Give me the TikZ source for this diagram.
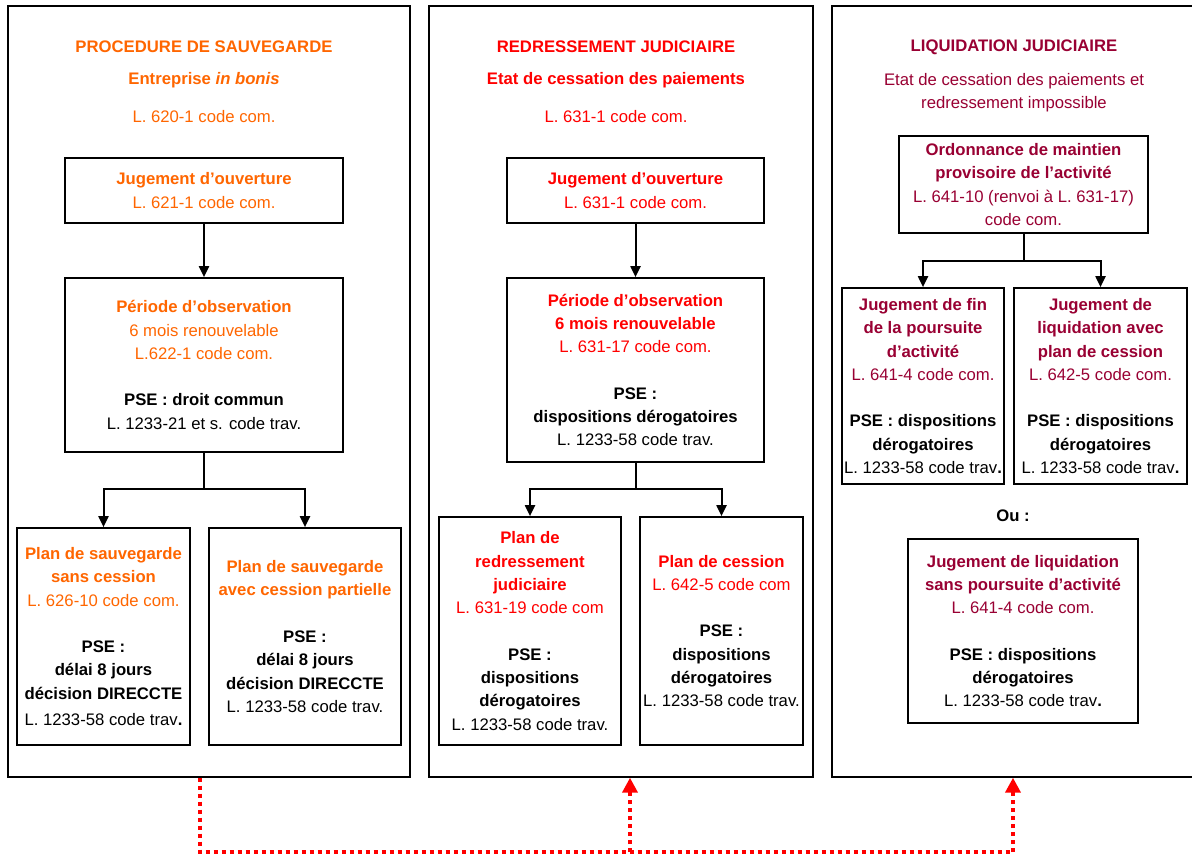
\documentclass[tikz,border=0pt]{standalone}
\usepackage{fontspec}
\setmainfont{Liberation Sans}
\usetikzlibrary{arrows.meta}
\definecolor{orng}{RGB}{255,102,0}
\definecolor{rd}{RGB}{255,0,0}
\definecolor{burg}{RGB}{153,0,51}
\newcommand\fsz{\fontsize{16.7}{23.3}\selectfont}
\newcommand\OB[1]{\textcolor{orng}{\bfseries #1}}
\newcommand\ON[1]{\textcolor{orng}{#1}}
\newcommand\RB[1]{\textcolor{rd}{\bfseries #1}}
\newcommand\RN[1]{\textcolor{rd}{#1}}
\newcommand\PB[1]{\textcolor{burg}{\bfseries #1}}
\newcommand\PN[1]{\textcolor{burg}{#1}}
\newcommand\KB[1]{{\bfseries #1}}
\begin{document}
\begin{tikzpicture}[x=1pt,y=-1pt,
  frame/.style={draw, line width=1.4pt, inner sep=0pt},
  box/.style={draw, line width=1.7pt, align=center, inner sep=0pt, font=\fsz},
  lbl/.style={align=center, inner sep=0pt, font=\fsz},
  conn/.style={line width=2pt},
  arr/.style={conn, -{Triangle[width=10pt,length=11pt]}},
  reddot/.style={draw=rd, line width=4pt, dash pattern=on 4pt off 4pt},
  redarr/.style={reddot, -{Triangle[width=15pt,length=15pt]}}]
\clip (0,0) rectangle (1192,859);
\fill[white] (0,0) rectangle (1192,859);
% frames
\node[frame, minimum width=402pt, minimum height=771pt] (f1) at (209,391.5) {};
\node[frame, minimum width=384pt, minimum height=771pt] (f2) at (621,391.5) {};
\node[frame, minimum width=418pt, minimum height=771pt] (f3) at (1041,391.5) {};
% column 1
\node[lbl] (t1a) at (204,47) {\OB{PROCEDURE DE SAUVEGARDE}};
\node[lbl] (t1b) at (204,80) {\OB{Entreprise \textit{in bonis}}};
\node[lbl] (t1c) at (204,117) {\ON{L. 620-1 code com.}};
\node[box, minimum width=278pt, minimum height=65pt] (j1) at (204,190.5)
  {\OB{Jugement d’ouverture}\\ \ON{L. 621-1 code com.}};
\node[box, minimum width=278pt, minimum height=174pt] (p1) at (204,365)
  {\OB{Période d’observation}\\ \ON{6 mois renouvelable}\\ \ON{L.622-1 code com.}\\[23.3pt]
   \KB{PSE : droit commun}\\ L. 1233-21 et s. code trav.};
\node[box, minimum width=173pt, minimum height=217pt] (a1) at (103.5,636.5)
  {\OB{Plan de sauvegarde}\\ \OB{sans cession}\\ \ON{L. 626-10 code com.}\\[23.3pt]
   \KB{PSE :}\\ \KB{délai 8 jours}\\ \KB{décision DIRECCTE}\\[3pt] L. 1233-58 code trav\textbf{.}};
\node[box, minimum width=192pt, minimum height=217pt] (a2) at (305,636.5)
  {\OB{Plan de sauvegarde}\\ \OB{avec cession partielle}\\[23.3pt]
   \KB{PSE :}\\ \KB{délai 8 jours}\\ \KB{décision DIRECCTE}\\ L. 1233-58 code trav.};
\coordinate (b1) at (204,489);
\draw[arr] (j1.south) -- (p1.north);
\draw[conn] (p1.south) -- (b1);
\draw[arr] (b1) -| (a1.north);
\draw[arr] (b1) -| (a2.north);
% column 2
\node[lbl] (t2a) at (616,47) {\RB{REDRESSEMENT JUDICIAIRE}};
\node[lbl] (t2b) at (616,80) {\RB{Etat de cessation des paiements}};
\node[lbl] (t2c) at (616,117) {\RN{L. 631-1 code com.}};
\node[box, minimum width=257pt, minimum height=65pt] (j2) at (635.5,190.5)
  {\RB{Jugement d’ouverture}\\ \RN{L. 631-1 code com.}};
\node[box, minimum width=257pt, minimum height=184pt] (p2) at (635.5,370)
  {\RB{Période d’observation}\\ \RB{6 mois renouvelable}\\ \RN{L. 631-17 code com.}\\[23.3pt]
   \KB{PSE :}\\ \KB{dispositions dérogatoires}\\ L. 1233-58 code trav.};
\node[box, minimum width=182pt, minimum height=228pt] (c2) at (530,631)
  {\RB{Plan de}\\ \RB{redressement}\\ \RB{judiciaire}\\ \RN{L. 631-19 code com}\\[23.3pt]
   \KB{PSE :}\\ \KB{dispositions}\\ \KB{dérogatoires}\\ L. 1233-58 code trav.};
\node[box, minimum width=163pt, minimum height=228pt] (d2) at (721.5,631)
  {\RB{Plan de cession}\\ \RN{L. 642-5 code com}\\[23.3pt]
   \KB{PSE :}\\ \KB{dispositions}\\ \KB{dérogatoires}\\ L. 1233-58 code trav.};
\coordinate (b2) at (635.5,489);
\draw[arr] (j2.south) -- (p2.north);
\draw[conn] (p2.south) -- (b2);
\draw[arr] (b2) -| (c2.north);
\draw[arr] (b2) -| (d2.north);
% column 3
\node[lbl] (t3a) at (1014,47) {\PB{LIQUIDATION JUDICIAIRE}};
\node[lbl] (t3b) at (1014,93) {\PN{Etat de cessation des paiements et}\\ \PN{redressement impossible}};
\node[box, minimum width=249pt, minimum height=97pt] (o3) at (1023.5,184.5)
  {\PB{Ordonnance de maintien}\\ \PB{provisoire de l’activité}\\ \PN{L. 641-10 (renvoi à L. 631-17)}\\ \PN{code com.}};
\node[box, minimum width=162pt, minimum height=196pt] (e3) at (923,386)
  {\PB{Jugement de fin}\\ \PB{de la poursuite}\\ \PB{d’activité}\\ \PN{L. 641-4 code com.}\\[23.3pt]
   \KB{PSE : dispositions}\\ \KB{dérogatoires}\\ L. 1233-58 code trav\textbf{.}};
\node[box, minimum width=173pt, minimum height=196pt] (g3) at (1100.5,386)
  {\PB{Jugement de}\\ \PB{liquidation avec}\\ \PB{plan de cession}\\ \PN{L. 642-5 code com.}\\[23.3pt]
   \KB{PSE : dispositions}\\ \KB{dérogatoires}\\ L. 1233-58 code trav\textbf{.}};
\node[lbl] (ou) at (1013,516) {\KB{Ou :}};
\node[box, minimum width=230pt, minimum height=184pt] (h3) at (1023,631)
  {\PB{Jugement de liquidation}\\ \PB{sans poursuite d’activité}\\ \PN{L. 641-4 code com.}\\[23.3pt]
   \KB{PSE : dispositions}\\ \KB{dérogatoires}\\ L. 1233-58 code trav\textbf{.}};
\coordinate (b3) at (1023.5,261);
\draw[conn] (o3.south) -- (b3);
\draw[arr] (b3) -| (e3.north);
\draw[arr] (b3) -| (g3.north);
% red dotted links
\coordinate (r0) at (200,852);
\coordinate (r1) at (630,852);
\coordinate (r2) at (1013,852);
\draw[reddot] (f1.south -| r0) -- (r0) -- (r2);
\draw[redarr] (r1) -- (r1 |- f2.south);
\draw[redarr] (r2) -- (r2 |- f3.south);
\end{tikzpicture}
\end{document}
